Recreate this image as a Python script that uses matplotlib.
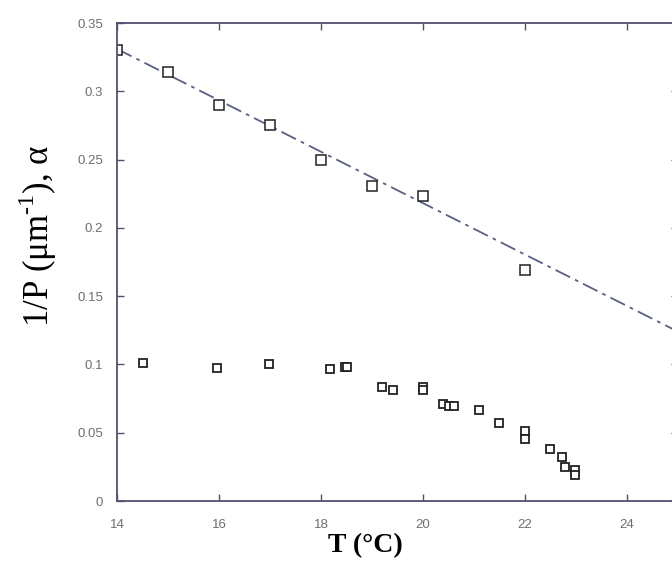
import numpy as np
import matplotlib
matplotlib.use('Agg')
from matplotlib import pyplot as plt
from matplotlib.ticker import FuncFormatter

# 1/P data (upper series) and fitted line
T_p = [14, 15, 16, 17, 18, 19, 20, 22]
inv_p = [0.33, 0.314, 0.29, 0.275, 0.25, 0.231, 0.223, 0.169]
fit_T = [14, 25]
fit_y = [0.331, 0.124]

# alpha data (lower series)
T_a = [14.5, 15.96, 16.98, 18.18, 18.47, 18.5, 19.2, 19.42, 20.0, 20.0,
       20.39, 20.5, 20.6, 21.1, 21.49, 22.0, 22.0, 22.49, 22.73, 22.78,
       22.98, 22.98]
alpha = [0.1009, 0.0972, 0.1002, 0.0966, 0.0981, 0.098, 0.0834, 0.0812,
         0.0835, 0.081, 0.0708, 0.0694, 0.0694, 0.0665, 0.057, 0.0515,
         0.0455, 0.0384, 0.032, 0.0247, 0.0225, 0.019]

xticks = [14, 16, 18, 20, 22, 24]
yticks = [0, 0.05, 0.1, 0.15, 0.2, 0.25, 0.3, 0.35]

plt.rcParams['mathtext.fontset'] = 'custom'
plt.rcParams['mathtext.rm'] = 'Liberation Serif'

fig = plt.figure(figsize=(6.72, 5.64), dpi=100)
ax = fig.add_axes([117/672, 63/564, 561/672, 478/564])

spine_c = '#50506e'
ax.plot(fit_T, fit_y, color='#5a5f86', lw=1.3, dashes=(9, 3, 2, 3))
ax.plot(T_p, inv_p, 's', mfc='white', mec='#222222', ms=6.5, mew=1.1)
ax.plot(T_a, alpha, 's', mfc='white', mec='#222222', ms=5.5, mew=1.3)

ax.set_xlim(14, 25)
ax.set_ylim(0, 0.35)
ax.set_xticks(xticks)
ax.set_yticks(yticks)
ax.yaxis.set_major_formatter(FuncFormatter(lambda v, p: '%g' % v))
ax.tick_params(direction='in', length=5, width=1, color=spine_c,
               top=True, right=True, labelcolor='#6e6e6e', labelsize=9.5)
ax.tick_params(axis='x', pad=13)
ax.tick_params(axis='y', pad=10)
for lab in ax.get_xticklabels() + ax.get_yticklabels():
    lab.set_family('Liberation Sans')
for s in ax.spines.values():
    s.set_color(spine_c)
    s.set_linewidth(1.3)

fig.text(38/672, 1 - 236/564, r'1/P (μm$^{\mathregular{‐1}}$), α',
         rotation=90, ha='center', va='center', fontsize=25,
         family='Liberation Serif')
fig.text(365/672, 1 - 546/564, 'T (°C)', ha='center', va='center',
         fontsize=20, fontweight='bold', family='Liberation Serif')

fig.savefig('out.png', dpi=100)
